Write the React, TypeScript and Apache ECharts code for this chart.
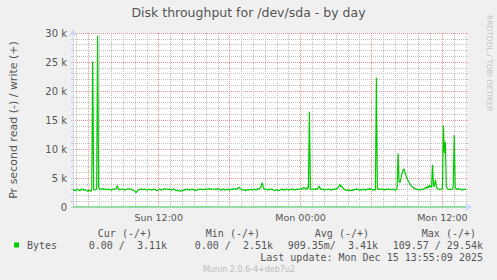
import React, { useEffect, useRef } from 'react';
import * as echarts from 'echarts';

const TITLE = 'Disk throughput for /dev/sda - by day';
const Y_NAME = 'Pr second read (-) / write (+)';
const SIDE_TEXT = 'RRDTOOL / TOBI OETIKER';
const SERIES_NAME = 'Bytes';
const LEGEND_HEADERS = ['Cur (-/+)', 'Min (-/+)', 'Avg (-/+)', 'Max (-/+)'];
const LEGEND_VALUES = ['0.00 /  3.11k', '0.00 /  2.51k', '909.35m/  3.41k', '109.57 / 29.54k'];
const LAST_UPDATE = 'Last update: Mon Dec 15 13:55:09 2025';
const VERSION = 'Munin 2.0.6-4+deb7u2';

// time axis in hours since Sun 00:00, one sample every 5 minutes
const START_HOUR = 4.75;
const STEP_HOURS = 5 / 60;
const END_HOUR = 4.75 + 401 / 12;
const X_LABELS = [
  { hour: 12, text: 'Sun 12:00' },
  { hour: 24, text: 'Mon 00:00' },
  { hour: 36, text: 'Mon 12:00' },
];
const Y_MAX = 30; // k

// write, in k bytes per second
const WRITE_K = [
  2.9, 3.0, 2.8, 2.9, 3.1, 3.0, 2.9, 2.8, 3.0, 3.1, 3.0, 2.9,
  3.0, 2.9, 2.8, 2.7, 2.9, 2.8, 2.7, 2.8, 25.1, 3.1, 2.9, 3.0,
  3.1, 29.54, 3.4, 3.1, 3.0, 3.1, 3.2, 3.0, 3.1, 3.0, 3.1, 3.0,
  3.0, 3.1, 3.0, 2.9, 3.0, 3.1, 3.0, 3.1, 3.2, 3.7, 3.1, 3.0,
  3.0, 3.1, 3.0, 3.1, 3.0, 2.9, 3.0, 3.1, 3.2, 3.1, 3.0, 3.1,
  3.0, 2.9, 2.8, 2.7, 2.5, 2.7, 2.9, 3.0, 3.1, 3.0, 3.1, 3.0,
  3.0, 3.1, 3.0, 2.9, 3.0, 3.1, 3.0, 3.0, 2.9, 3.0, 3.1, 3.0,
  2.9, 2.8, 2.9, 3.0, 3.1, 3.0, 2.9, 3.0, 3.1, 3.2, 3.0, 3.1,
  3.1, 3.0, 3.1, 3.0, 2.9, 3.0, 3.1, 3.0, 2.9, 2.8, 2.9, 2.8,
  2.7, 2.8, 2.7, 2.8, 2.9, 3.0, 2.9, 3.0, 3.1, 3.0, 2.9, 3.0,
  3.0, 3.1, 3.0, 2.9, 3.0, 2.8, 2.9, 3.0, 3.1, 3.0, 3.1, 3.0,
  3.0, 3.1, 3.0, 3.1, 3.0, 3.1, 3.2, 3.1, 3.0, 3.1, 3.1, 3.0,
  3.1, 3.0, 3.1, 3.2, 3.1, 3.0, 2.9, 3.0, 3.1, 3.0, 2.9, 3.0,
  3.0, 3.1, 3.0, 2.9, 3.0, 3.1, 3.0, 3.1, 3.2, 3.1, 3.0, 3.2,
  3.3, 3.4, 3.1, 3.0, 2.9, 3.0, 2.9, 2.8, 2.9, 3.0, 2.9, 3.0,
  3.0, 3.1, 2.9, 3.0, 3.1, 3.0, 2.9, 3.1, 3.2, 3.1, 3.3, 3.6,
  4.2, 3.5, 3.1, 3.0, 3.1, 3.0, 2.9, 3.0, 3.1, 3.0, 3.1, 3.0,
  2.9, 2.8, 2.9, 3.0, 2.9, 2.8, 2.9, 3.0, 3.1, 3.0, 2.9, 3.0,
  3.0, 3.1, 3.0, 2.9, 3.0, 3.1, 3.0, 3.1, 3.0, 2.9, 3.0, 3.1,
  3.0, 3.1, 3.0, 3.1, 3.2, 3.1, 3.4, 3.3, 3.1, 3.0, 3.5, 3.2,
  16.4, 3.1, 3.0, 3.1, 3.0, 3.1, 3.0, 3.2, 3.1, 3.3, 3.6, 3.2,
  3.0, 3.1, 3.0, 2.9, 3.0, 3.1, 3.0, 3.0, 3.1, 3.0, 2.9, 3.0,
  3.1, 3.0, 3.1, 3.0, 3.2, 3.4, 3.6, 3.9, 3.5, 3.6, 3.3, 3.1,
  3.0, 2.9, 2.8, 3.0, 2.9, 2.8, 2.9, 2.8, 3.0, 2.9, 3.0, 3.1,
  3.0, 3.1, 3.0, 2.9, 3.0, 2.9, 3.0, 3.1, 3.0, 2.9, 3.0, 3.1,
  3.0, 3.2, 3.0, 3.1, 3.0, 2.9, 3.0, 2.9, 22.3, 3.2, 3.0, 3.1,
  3.0, 3.1, 3.0, 3.1, 2.9, 3.0, 3.1, 3.0, 3.1, 3.0, 3.1, 3.0,
  3.0, 3.1, 3.0, 2.9, 3.0, 3.2, 9.2, 4.4, 4.2, 5.0, 5.8, 6.3,
  6.6, 5.9, 5.4, 5.0, 4.6, 4.3, 4.0, 3.7, 3.5, 3.4, 3.3, 3.2,
  3.1, 3.0, 3.1, 3.0, 2.9, 3.0, 3.1, 3.0, 3.1, 3.2, 3.4, 3.2,
  3.6, 3.3, 3.8, 3.5, 3.4, 7.3, 3.5, 3.8, 4.7, 3.4, 3.2, 3.1,
  3.0, 3.1, 3.0, 3.2, 14.1, 9.3, 11.2, 3.5, 3.2, 3.1, 3.0, 3.1,
  3.0, 3.1, 3.3, 12.4, 3.4, 3.1, 3.0, 3.2, 3.0, 3.1, 3.0, 2.9,
  3.0, 3.1, 3.0, 3.11,
];
// read stays at 0.00 over the whole day
const READ_K = new Array(WRITE_K.length).fill(0);

const GREEN = '#00cc00';
const GRID_GRAY = '#c2c2c2';
const GRID_RED = '#ee9292';
const NONE = 'rgba(0,0,0,0)';
const AXIS_BLUE = '#cfd6f8';
const TEXT = '#555555';
const SANS = 'DejaVu Sans';
const MONO = 'DejaVu Sans Mono';

export default function App() {
  const ref = useRef<HTMLDivElement>(null);

  useEffect(() => {
    if (!ref.current) return;
    const chart = echarts.init(ref.current, undefined, { renderer: 'svg' });

    const writeData = WRITE_K.map((v, i) => [START_HOUR + i * STEP_HOURS, v]);
    const readData = READ_K.map((v, i) => [START_HOUR + i * STEP_HOURS, v]);

    const headerRight = [152, 260, 369, 476];
    const valueRight = [167, 273, 378, 483];

    const graphics: any[] = [
      {
        type: 'text',
        x: 489,
        y: 15,
        rotation: -Math.PI / 2,
        style: {
          text: SIDE_TEXT,
          fill: '#c4c4c4',
          font: `7.5px "${SANS}"`,
          textAlign: 'left',
          textVerticalAlign: 'middle',
        },
      },
      ...LEGEND_HEADERS.map((t, k) => ({
        type: 'text',
        x: headerRight[k],
        y: 233.5,
        style: { text: t, fill: TEXT, font: `10px "${MONO}"`, textAlign: 'right', textVerticalAlign: 'middle' },
      })),
      ...LEGEND_VALUES.map((t, k) => ({
        type: 'text',
        x: valueRight[k],
        y: 245.5,
        style: { text: t, fill: TEXT, font: `10px "${MONO}"`, textAlign: 'right', textVerticalAlign: 'middle' },
      })),
      {
        type: 'text',
        x: 483,
        y: 257.5,
        style: { text: LAST_UPDATE, fill: TEXT, font: `10px "${MONO}"`, textAlign: 'right', textVerticalAlign: 'middle' },
      },
      {
        type: 'text',
        x: 249,
        y: 269.5,
        style: { text: VERSION, fill: '#bcbcbc', font: `8px "${SANS}"`, textAlign: 'center', textVerticalAlign: 'middle' },
      },
    ];

    chart.setOption({
      animation: false,
      backgroundColor: '#f0f0f0',
      title: {
        text: TITLE,
        left: 'center',
        top: 6,
        padding: 0,
        textStyle: { fontFamily: SANS, fontSize: 12.5, fontWeight: 'normal', color: TEXT },
      },
      legend: {
        data: [SERIES_NAME],
        left: 14,
        top: 240,
        padding: 0,
        icon: 'rect',
        itemWidth: 5,
        itemHeight: 5,
        selectedMode: false,
        textStyle: { fontFamily: MONO, fontSize: 10, color: TEXT, padding: [0, 0, 0, 3] },
      },
      grid: {
        left: 67,
        top: 33,
        width: 401,
        height: 174,
        show: true,
        backgroundColor: '#ffffff',
        borderWidth: 0,
      },
      xAxis: {
        type: 'value',
        min: START_HOUR,
        max: END_HOUR,
        interval: 0.25,
        axisLine: {
          show: true,
          onZero: false,
          symbol: ['none', 'arrow'],
          symbolSize: [6, 7],
          symbolOffset: [0, 4],
          lineStyle: { color: AXIS_BLUE, width: 1 },
        },
        axisTick: { show: false },
        axisLabel: {
          show: true,
          margin: 5,
          color: TEXT,
          fontFamily: SANS,
          fontSize: 9.5,
          showMinLabel: true,
          showMaxLabel: true,
          hideOverlap: false,
          formatter: (v: number) => {
            const f = X_LABELS.find((l) => Math.abs(l.hour - v) < 1e-6);
            return f ? f.text : '';
          },
        },
        splitLine: {
          show: true,
          lineStyle: {
            type: [1, 1],
            width: 1,
            color: [
              NONE, GRID_GRAY, NONE, NONE, NONE, GRID_RED, NONE, NONE,
              NONE, GRID_GRAY, NONE, NONE, NONE, GRID_GRAY, NONE, NONE,
              NONE, GRID_GRAY, NONE, NONE, NONE, GRID_GRAY, NONE, NONE,
            ],
          },
        },
      },
      yAxis: {
        type: 'value',
        min: 0,
        max: Y_MAX,
        interval: 1,
        name: Y_NAME,
        nameLocation: 'middle',
        nameRotate: 90,
        nameGap: 54,
        nameTextStyle: { fontFamily: SANS, fontSize: 11, color: TEXT },
        axisLine: {
          show: true,
          onZero: false,
          symbol: ['none', 'arrow'],
          symbolSize: [6, 7],
          symbolOffset: [0, 4],
          lineStyle: { color: AXIS_BLUE, width: 1 },
        },
        axisTick: { show: true, length: 2, lineStyle: { color: '#c8c8c8' } },
        axisLabel: {
          margin: 6,
          color: TEXT,
          fontFamily: SANS,
          fontSize: 10,
          formatter: (v: number) => (v % 5 === 0 ? (v === 0 ? '0' : `${v} k`) : ''),
        },
        splitLine: {
          show: true,
          lineStyle: {
            type: [1, 1],
            width: 1,
            color: [GRID_RED, GRID_GRAY, GRID_GRAY, GRID_GRAY, GRID_GRAY],
          },
        },
      },
      series: [
        {
          name: 'read',
          type: 'line',
          data: readData,
          showSymbol: false,
          silent: true,
          z: 3,
          lineStyle: { color: GREEN, width: 1 },
          itemStyle: { color: GREEN },
        },
        {
          name: SERIES_NAME,
          type: 'line',
          data: writeData,
          showSymbol: false,
          silent: true,
          z: 4,
          lineStyle: { color: GREEN, width: 1.2 },
          itemStyle: { color: GREEN },
        },
      ],
      graphic: graphics,
    });

    return () => chart.dispose();
  }, []);

  return (
    <div
      ref={ref}
      style={{ position: 'absolute', left: 0, top: 0, width: 497, height: 280 }}
    />
  );
}
